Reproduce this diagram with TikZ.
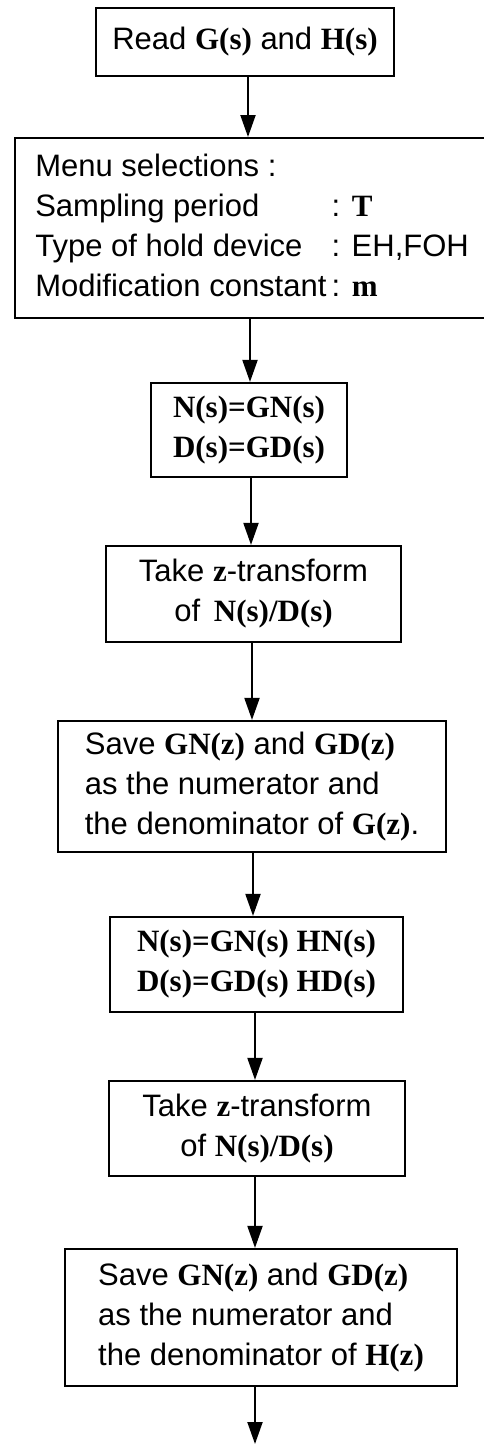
\documentclass[tikz,border=0pt]{standalone}
\usepackage{fontspec}
\setmainfont{Liberation Sans}
\newfontfamily\symserif{Liberation Serif}
\usetikzlibrary{arrows.meta}
\newcommand{\sym}[1]{{\symserif\bfseries #1}}
\tikzset{
  x=1pt, y=-1pt,
  box/.style={draw, line width=2.2pt, inner sep=0pt, font=\fontsize{31}{40}\selectfont},
  flow/.style={line width=2pt, -{Triangle[length=22pt,width=15pt]}}
}
\begin{document}
\begin{tikzpicture}
\useasboundingbox (0,0) rectangle (484,1444);

% boxes: centre, width and height given in pixels of the page
\node[box, minimum width=298, minimum height=68] (b1) at (245,42)
  {Read \sym{G(s)} and \sym{H(s)}};
\node[box, minimum width=474, minimum height=180, anchor=north west] (b2) at (14,137)
  {\begin{tabular}{@{}l@{}l@{}}
   \multicolumn{2}{@{}l@{}}{Menu selections :}\\
   Sampling period & : \sym{T}\\
   Type of hold device & : EH,FOH\\
   Modification constant\, & : \sym{m}
   \end{tabular}};
\node[box, minimum width=196, minimum height=94, align=left] (b3) at (249,430)
  {\sym{N(s)=GN(s)}\\ \sym{D(s)=GD(s)}};
\node[box, minimum width=295, minimum height=96, align=center] (b4) at (253.5,594)
  {Take \sym{z}-transform\\ of\, \sym{N(s)/D(s)}};
\node[box, minimum width=388, minimum height=131, align=left] (b5) at (252,786.5)
  {Save \sym{GN(z)} and \sym{GD(z)}\\ as the numerator and\\ the denominator of \sym{G(z)}.};
\node[box, minimum width=293, minimum height=95, align=left] (b6) at (256.5,964.5)
  {\sym{N(s)=GN(s) HN(s)}\\ \sym{D(s)=GD(s) HD(s)}};
\node[box, minimum width=296, minimum height=95, align=center] (b7) at (257,1128.5)
  {Take \sym{z}-transform\\ of \sym{N(s)/D(s)}};
\node[box, minimum width=392, minimum height=137, align=left] (b8) at (261,1317.5)
  {Save \sym{GN(z)} and \sym{GD(z)}\\ as the numerator and\\ the denominator of \sym{H(z)}};

% horizontal positions of the connectors
\coordinate (c1) at (248,0);
\coordinate (c2) at (250,0);
\coordinate (c3) at (251,0);
\coordinate (c4) at (252,0);
\coordinate (c5) at (253,0);
\coordinate (c6) at (255,0);
\coordinate (c7) at (255,0);
\coordinate (c8) at (255,0);
\coordinate (out) at (255,1444);

\draw[flow] (c1 |- b1.south) -- (c1 |- b2.north);
\draw[flow] (c2 |- b2.south) -- (c2 |- b3.north);
\draw[flow] (c3 |- b3.south) -- (c3 |- b4.north);
\draw[flow] (c4 |- b4.south) -- (c4 |- b5.north);
\draw[flow] (c5 |- b5.south) -- (c5 |- b6.north);
\draw[flow] (c6 |- b6.south) -- (c6 |- b7.north);
\draw[flow] (c7 |- b7.south) -- (c7 |- b8.north);
\draw[flow] (c8 |- b8.south) -- (out);
\end{tikzpicture}
\end{document}
